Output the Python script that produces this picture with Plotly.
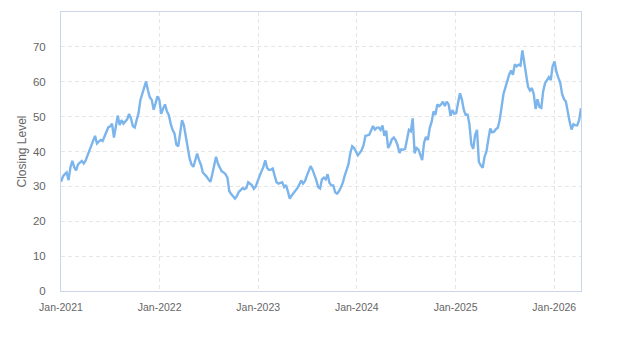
import pandas as pd
import plotly.graph_objects as go

# Weekly closing levels, starting the first week of January 2021
start_date = "2021-01-01"
closing_2021 = [31.3, 32.8, 33.5, 34.0, 31.8, 35.5, 37.3, 35.5, 34.6, 36.3,
                36.8, 37.3, 36.6, 37.4, 38.8, 40.2, 42.0, 43.2, 44.5, 42.3,
                42.8, 43.3, 43.0, 44.2, 45.2, 46.9, 47.2, 48.0, 44.0, 47.5,
                50.3, 47.6, 49.0, 48.0, 48.5, 49.2, 50.8, 49.5, 47.3, 46.9,
                49.0, 51.0, 54.8, 56.5, 58.5, 60.1, 57.5, 55.5, 54.8, 52.0,
                53.8, 55.8]
closing_2022 = [54.8, 50.8, 52.3, 53.5, 51.5, 50.5, 48.0, 46.2, 45.2, 42.0,
                41.5, 45.8, 49.0, 47.5, 44.0, 41.5, 38.0, 36.3, 35.6, 37.5,
                39.4, 37.5, 36.2, 34.0, 33.5, 32.8, 32.0, 31.3, 33.5, 36.5,
                38.5, 36.5, 35.3, 34.3, 34.0, 33.5, 32.5, 28.6, 27.8, 27.0,
                26.5, 27.2, 28.4, 28.9, 29.5, 29.2, 29.5, 31.2, 30.8, 30.3,
                29.3, 30.0]
closing_2023 = [31.5, 33.2, 34.3, 35.5, 37.5, 35.3, 34.7, 34.8, 35.1, 33.0,
                31.2, 30.8, 31.0, 31.2, 29.8, 30.4, 28.5, 26.5, 27.4, 28.0,
                28.6, 29.5, 30.5, 31.7, 30.8, 31.5, 33.0, 34.6, 35.8, 34.8,
                33.5, 31.8, 29.8, 29.4, 32.0, 32.5, 32.0, 33.5, 31.0, 30.3,
                30.3, 28.3, 27.9, 28.6, 29.7, 31.0, 33.0, 34.6, 36.3, 39.5,
                41.5, 41.0]
closing_2024 = [39.8, 38.9, 39.6, 40.4, 41.8, 44.5, 44.6, 44.8, 46.0, 47.3,
                46.3, 46.8, 46.9, 46.2, 47.5, 44.5, 46.0, 41.0, 42.0, 43.5,
                44.0, 43.2, 41.8, 39.6, 40.6, 40.5, 40.8, 43.5, 46.2, 45.8,
                49.5, 39.5, 41.0, 40.6, 39.2, 37.5, 42.5, 44.2, 43.3, 46.7,
                48.5, 51.5, 50.5, 53.5, 53.0, 53.5, 54.3, 53.0, 54.3, 53.5,
                50.2, 51.9]
closing_2025 = [50.8, 51.0, 54.0, 56.7, 55.0, 52.0, 50.5, 50.6, 47.8, 42.0,
                40.8, 44.7, 46.2, 37.0, 36.0, 35.3, 38.5, 40.0, 43.5, 46.6,
                45.5, 45.7, 46.4, 46.8, 49.0, 53.5, 56.5, 58.3, 60.5, 62.0,
                63.2, 62.0, 65.0, 64.4, 64.9, 64.6, 69.0, 65.5, 62.5, 58.5,
                57.5, 58.2, 56.5, 52.2, 55.0, 52.8, 52.5, 57.3, 59.6, 60.3,
                61.3, 60.5]
closing_2026 = [64.5, 65.8, 62.8, 61.2, 59.8, 56.5, 55.0, 54.3, 50.8, 48.5,
                46.3, 47.8, 47.5, 47.5, 49.0, 52.4]

closing = closing_2021 + closing_2022 + closing_2023 + closing_2024 + closing_2025 + closing_2026
dates = pd.date_range(start_date, periods=len(closing), freq="7D")

y_ticks = [0, 10, 20, 30, 40, 50, 60, 70]

font_family = "Liberation Sans, Arial, sans-serif"
grid_color = "#e6e6e6"
line_color = "#ccd6eb"

fig = go.Figure(
    go.Scatter(
        x=dates,
        y=closing,
        mode="lines",
        line=dict(color="#7cb5ec", width=2.4),
        hoverinfo="x+y",
    )
)

fig.update_layout(
    width=623,
    height=350,
    margin=dict(l=61, r=42, t=12, b=59),
    plot_bgcolor="white",
    paper_bgcolor="white",
    showlegend=False,
    font=dict(family=font_family, color="#666666", size=11),
)

fig.update_xaxes(
    range=[dates[0], dates[-1]],
    tickformat="%b-%Y",
    dtick="M12",
    tick0=start_date,
    showgrid=True,
    gridcolor=grid_color,
    griddash="4px,3px",
    gridwidth=1,
    showline=True,
    linecolor=line_color,
    linewidth=1,
    mirror=True,
    ticks="outside",
    ticklen=6,
    tickcolor="rgba(0,0,0,0)",
    tickfont=dict(size=10.5, color="#666666"),
    zeroline=False,
)

fig.update_yaxes(
    range=[0, 80],
    tickvals=y_ticks,
    showgrid=True,
    gridcolor=grid_color,
    griddash="4px,3px",
    gridwidth=1,
    showline=True,
    linecolor=line_color,
    linewidth=1,
    mirror=True,
    ticks="outside",
    ticklen=12,
    tickcolor="rgba(0,0,0,0)",
    tickfont=dict(size=11.5, color="#666666"),
    zeroline=False,
    title=dict(text="Closing Level", font=dict(size=12, color="#666666"), standoff=3),
)

fig.write_html("out.html")
